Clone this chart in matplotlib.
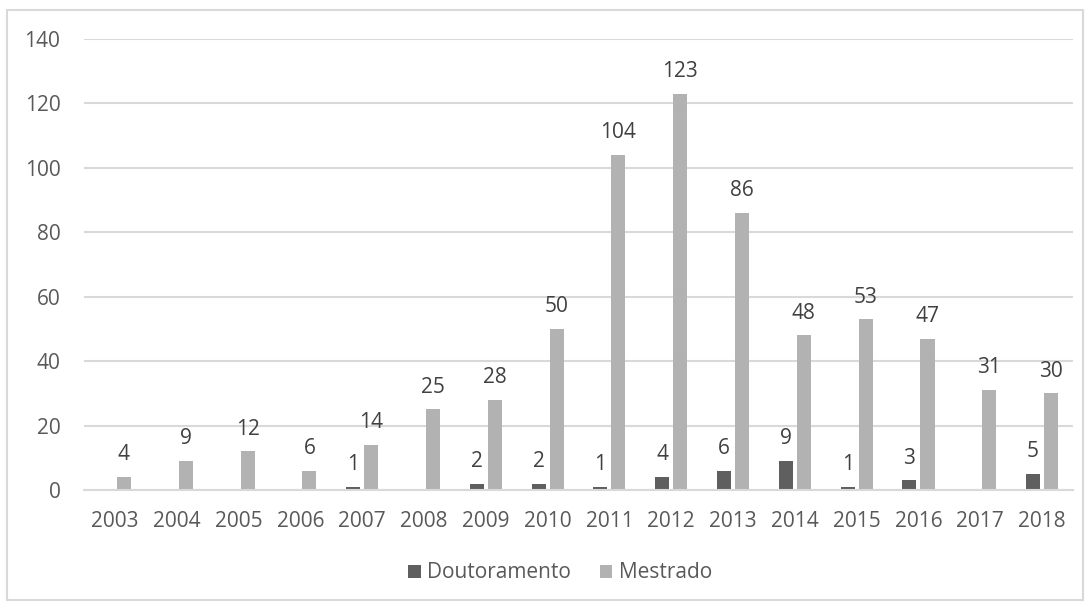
import numpy as np
import matplotlib.pyplot as plt
from matplotlib.patches import Rectangle

anos = [str(a) for a in range(2003, 2019)]
doutoramento = [0, 0, 0, 0, 1, 0, 2, 2, 1, 4, 6, 9, 1, 3, 0, 5]
mestrado = [4, 9, 12, 6, 14, 25, 28, 50, 104, 123, 86, 48, 53, 47, 31, 30]

cor_dout = "#5f5f5f"
cor_mest = "#b2b2b2"
cor_texto = "#595959"
cor_valor = "#404040"
cor_grelha = "#d9d9d9"

plt.rcParams['font.family'] = ['Open Sans', 'DejaVu Sans']

fig = plt.figure(figsize=(10.9, 6.08), dpi=100)
ax = fig.add_axes([84/1090, 1 - 490/608, (1073-84)/1090, (490-39)/608])

x = np.arange(len(anos))
w = 0.227
off = (w + 0.065) / 2
b1 = ax.bar(x - off, doutoramento, w, color=cor_dout, label="Doutoramento", zorder=3)
b2 = ax.bar(x + off, mestrado, w, color=cor_mest, label="Mestrado", zorder=3)

for xi, v in zip(x, doutoramento):
    if v > 0:
        ax.annotate(str(v), (xi - off, v), xytext=(0, 12), textcoords="offset points",
                    ha="center", va="baseline", fontsize=15, color=cor_valor)
for xi, v in zip(x, mestrado):
    ax.annotate(str(v), (xi + off, v), xytext=(0, 12), textcoords="offset points",
                ha="center", va="baseline", fontsize=15, color=cor_valor)

ax.set_xlim(-0.5, len(anos) - 0.5)
ax.set_ylim(0, 140)
ax.set_yticks(range(0, 141, 20))
ax.set_xticks(x)
ax.set_xticklabels(anos)
ax.tick_params(axis="both", length=0, labelsize=15, labelcolor=cor_texto)
ax.tick_params(axis="y", pad=17)
ax.tick_params(axis="x", pad=15)
ax.grid(axis="y", color=cor_grelha, linewidth=1.5, zorder=0)
for s in ["top", "right", "left"]:
    ax.spines[s].set_visible(False)
ax.spines["bottom"].set_color(cor_grelha)
ax.spines["bottom"].set_linewidth(1.5)
ax.spines["bottom"].set_zorder(4)

leg = fig.legend(handles=[b1, b2], loc="center", bbox_to_anchor=(560/1090, 1 - 573/608),
                 ncol=2, frameon=False, fontsize=15, handlelength=0.6, handleheight=0.6,
                 handletextpad=0.3, columnspacing=1.4)
for t in leg.get_texts():
    t.set_color(cor_texto)

fig.patches.append(Rectangle((7/1090, 1 - 600/608), 1076/1090, 590/608,
                             transform=fig.transFigure, fill=False,
                             edgecolor=cor_grelha, linewidth=1.5))

fig.savefig("out.png", dpi=100)
